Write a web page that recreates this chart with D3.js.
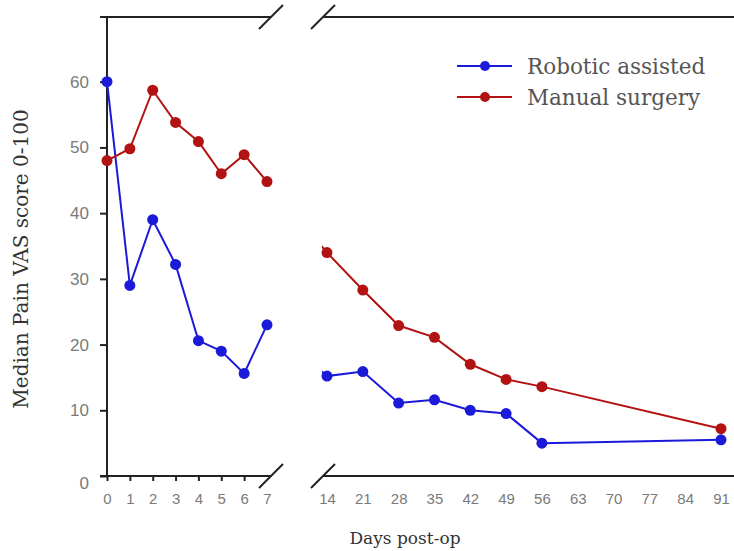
<!DOCTYPE html>
<html>
<head>
<meta charset="utf-8">
<script src="https://cdn.jsdelivr.net/npm/d3@7"></script>
<style>
  body { margin: 0; background: #fff; }
  svg { display: block; }
</style>
</head>
<body>
<svg id="chart" width="734" height="551"></svg>
<script>
// days post-op, split in two panels
var daysEarly = [0, 1, 2, 3, 4, 5, 6, 7];
var daysLate = [14, 21, 28, 35, 42, 49, 56, 91];
var days = daysEarly.concat(daysLate);

var robotic = [60, 29, 39, 32.2, 20.6, 19, 15.6, 23, 15.2, 15.9, 11.1, 11.6, 10, 9.5, 5, 5.5];
var manual = [48, 49.8, 58.7, 53.8, 50.9, 46, 48.9, 44.8, 34, 28.3, 22.9, 21.1, 17, 14.7, 13.6, 7.2];

var yTicks = [0, 10, 20, 30, 40, 50, 60];
var xTicksEarly = [0, 1, 2, 3, 4, 5, 6, 7];
var xTicksLate = [14, 21, 28, 35, 42, 49, 56, 63, 70, 77, 84, 91];

var seriesNames = ["Robotic assisted", "Manual surgery"];
var seriesColors = ["#1a1ad8", "#b31212"];

var svg = d3.select("#chart");

var y = d3.scaleLinear().domain([0, 70]).range([476, 16]);
var xL = d3.scaleLinear().domain([0, 7]).range([107, 267]);
var xR = d3.scaleLinear().domain([14, 91]).range([327, 721]);

function xPos(d) {
	return d <= 7 ? xL(d) : xR(d);
}

var axisColor = "#222";
var tickColor = "#7a7a7a";
var sansFont = "'Liberation Sans', Arial, sans-serif";
var serifFont = "'DejaVu Serif', serif";

// clip regions for the two panels
var defs = svg.append("defs");
defs.append("clipPath").attr("id", "clipL")
	.append("rect").attr("x", 100).attr("y", 0).attr("width", 170).attr("height", 480);
defs.append("clipPath").attr("id", "clipR")
	.append("rect").attr("x", 322).attr("y", 0).attr("width", 412).attr("height", 480);

// y axis
var yAxis = d3.axisLeft(y).tickValues(yTicks).tickSize(7).tickPadding(11);
var gy = svg.append("g").attr("transform", "translate(107,0)").call(yAxis);
gy.select(".domain").remove();
gy.selectAll("line").attr("stroke", axisColor).attr("stroke-width", 2);
gy.selectAll("text").attr("fill", tickColor).style("font-family", sansFont).style("font-size", "17px");
gy.selectAll(".tick").filter(function(d) { return d == 0; }).select("text").attr("dy", "0.75em");

svg.append("line")
	.attr("x1", 107).attr("x2", 107)
	.attr("y1", y(0)).attr("y2", 17)
	.attr("stroke", axisColor).attr("stroke-width", 2);

// x axis left panel
var xAxisL = d3.axisBottom(xL).tickValues(xTicksEarly).tickSize(5).tickPadding(12).tickFormat(d3.format("d"));
var gxL = svg.append("g").attr("transform", "translate(0," + y(0) + ")").call(xAxisL);
gxL.select(".domain").remove();
gxL.selectAll("line").attr("stroke", axisColor).attr("stroke-width", 2);
gxL.selectAll(".tick").filter(function(d) { return d == 7; }).select("line").remove();
gxL.selectAll("text").attr("fill", tickColor).style("font-family", sansFont).style("font-size", "15px");

// x axis right panel, labels only
var xAxisR = d3.axisBottom(xR).tickValues(xTicksLate).tickSize(0).tickPadding(17).tickFormat(d3.format("d"));
var gxR = svg.append("g").attr("transform", "translate(0," + y(0) + ")").call(xAxisR);
gxR.select(".domain").remove();
gxR.selectAll("text").attr("fill", tickColor).style("font-family", sansFont).style("font-size", "15px");

// frame lines (top and bottom), broken
var frameY = [y(0), 17];
frameY.forEach(function(fy) {
	svg.append("line").attr("x1", 100).attr("x2", 271).attr("y1", fy).attr("y2", fy)
		.attr("stroke", axisColor).attr("stroke-width", 2);
	svg.append("line").attr("x1", 323).attr("x2", 734).attr("y1", fy).attr("y2", fy)
		.attr("stroke", axisColor).attr("stroke-width", 2);
	[271, 323].forEach(function(cx) {
		svg.append("line")
			.attr("x1", cx - 12).attr("y1", fy + 12)
			.attr("x2", cx + 12).attr("y2", fy - 12)
			.attr("stroke", axisColor).attr("stroke-width", 2);
	});
});

// data lines
var line = d3.line()
	.x(function(d) { return xPos(d[0]); })
	.y(function(d) { return y(d[1]); });

var allSeries = [robotic, manual];

["clipL", "clipR"].forEach(function(clip) {
	var g = svg.append("g").attr("clip-path", "url(#" + clip + ")");
	allSeries.forEach(function(vals, i) {
		var pts = days.map(function(d, j) { return [d, vals[j]]; });
		g.append("path")
			.attr("d", line(pts))
			.attr("fill", "none")
			.attr("stroke", seriesColors[i])
			.attr("stroke-width", 2);
	});
});

allSeries.forEach(function(vals, i) {
	svg.append("g").selectAll("circle")
		.data(days.map(function(d, j) { return [d, vals[j]]; }))
		.enter().append("circle")
		.attr("cx", function(d) { return xPos(d[0]); })
		.attr("cy", function(d) { return y(d[1]); })
		.attr("r", 5.5)
		.attr("fill", seriesColors[i]);
});

// legend
var legend = svg.append("g").attr("transform", "translate(457,66)");
seriesNames.forEach(function(name, i) {
	var row = legend.append("g").attr("transform", "translate(0," + (i * 31) + ")");
	row.append("line").attr("x1", 0).attr("x2", 55).attr("y1", 0).attr("y2", 0)
		.attr("stroke", seriesColors[i]).attr("stroke-width", 2);
	row.append("circle").attr("cx", 28).attr("cy", 0).attr("r", 5).attr("fill", seriesColors[i]);
	row.append("text").attr("x", 70).attr("y", 0).attr("dy", "0.35em")
		.attr("fill", "#555")
		.style("font-family", serifFont).style("font-size", "21.5px")
		.text(name);
});

// axis titles
svg.append("text")
	.attr("transform", "translate(28,259) rotate(-90)")
	.attr("text-anchor", "middle")
	.attr("fill", "#333")
	.style("font-family", serifFont).style("font-size", "20px")
	.text("Median Pain VAS score 0-100");

svg.append("text")
	.attr("x", 405).attr("y", 544)
	.attr("text-anchor", "middle")
	.attr("fill", "#333")
	.style("font-family", serifFont).style("font-size", "17px")
	.text("Days post-op");
</script>
</body>
</html>
